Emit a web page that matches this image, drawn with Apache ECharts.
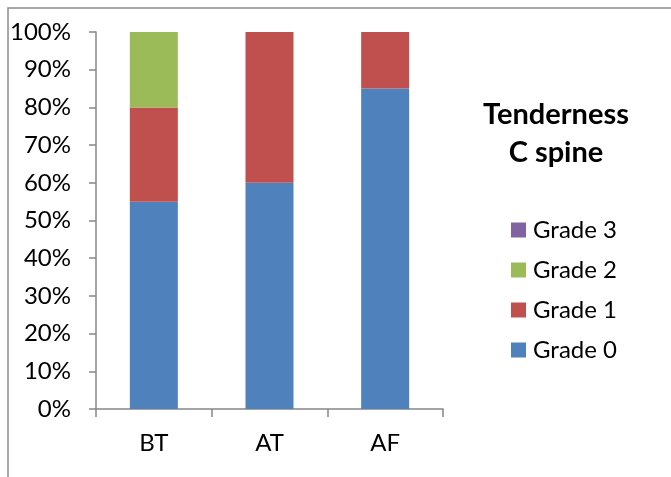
<!DOCTYPE html>
<html>
<head>
<meta charset="utf-8">
<script src="https://cdn.jsdelivr.net/npm/echarts@6/dist/echarts.min.js"></script>
<style>
  html, body { margin: 0; padding: 0; background: #fff; }
  #chart { width: 671px; height: 477px; }
</style>
</head>
<body>
<div id="chart"></div>
<script>
// Tenderness of the C spine by grade, share of patients per time point
const categories = ['BT', 'AT', 'AF'];
const grade0 = [55, 60, 85];
const grade1 = [25, 40, 15];
const grade2 = [20, 0, 0];
const grade3 = [0, 0, 0];
const legendOrder = ['Grade 3', 'Grade 2', 'Grade 1', 'Grade 0'];

const FONT = 'Lato';
const AXIS_GRAY = '#868686';

const chart = echarts.init(document.getElementById('chart'));

function barSeries(name, data, color) {
  return {
    name: name,
    type: 'bar',
    stack: 'total',
    data: data,
    barWidth: 48,
    itemStyle: { color: color },
    emphasis: { disabled: true }
  };
}

chart.setOption({
  animation: false,
  textStyle: { fontFamily: FONT },
  title: {
    text: 'Tenderness\nC spine',
    left: 556,
    top: 96,
    padding: 0,
    textAlign: 'center',
    textStyle: { fontFamily: FONT, fontSize: 29, fontWeight: 'bold', color: '#000', lineHeight: 38 }
  },
  legend: {
    orient: 'vertical',
    left: 511,
    top: 218,
    padding: 0,
    itemWidth: 15,
    itemHeight: 15,
    itemGap: 16,
    icon: 'rect',
    data: legendOrder,
    selectedMode: false,
    textStyle: { fontFamily: FONT, fontSize: 24, color: '#000', lineHeight: 24, padding: [0, 0, 0, 2] }
  },
  grid: { left: 96, right: 228, top: 32, bottom: 68, containLabel: false },
  xAxis: {
    type: 'category',
    data: categories,
    boundaryGap: true,
    axisLine: { lineStyle: { color: AXIS_GRAY, width: 1.5 } },
    axisTick: { show: true, length: 8, lineStyle: { color: AXIS_GRAY, width: 1.5 } },
    axisLabel: { color: '#000', fontSize: 24, margin: 22 }
  },
  yAxis: {
    type: 'value',
    min: 0,
    max: 100,
    interval: 10,
    axisLine: { show: true, lineStyle: { color: AXIS_GRAY, width: 1.5 } },
    axisTick: { show: true, length: 7, lineStyle: { color: AXIS_GRAY, width: 1.5 } },
    splitLine: { show: false },
    axisLabel: { color: '#000', fontSize: 24, margin: 25, formatter: '{value}%' }
  },
  graphic: [{
    type: 'polyline',
    shape: { points: [[8, 477], [8, 8], [671, 8]] },
    style: { stroke: '#8c8c8c', lineWidth: 1.5, fill: null },
    silent: true
  }],
  series: [
    barSeries('Grade 0', grade0, '#4F81BD'),
    barSeries('Grade 1', grade1, '#C0504D'),
    barSeries('Grade 2', grade2, '#9BBB59'),
    barSeries('Grade 3', grade3, '#8064A2')
  ]
});
</script>
</body>
</html>
